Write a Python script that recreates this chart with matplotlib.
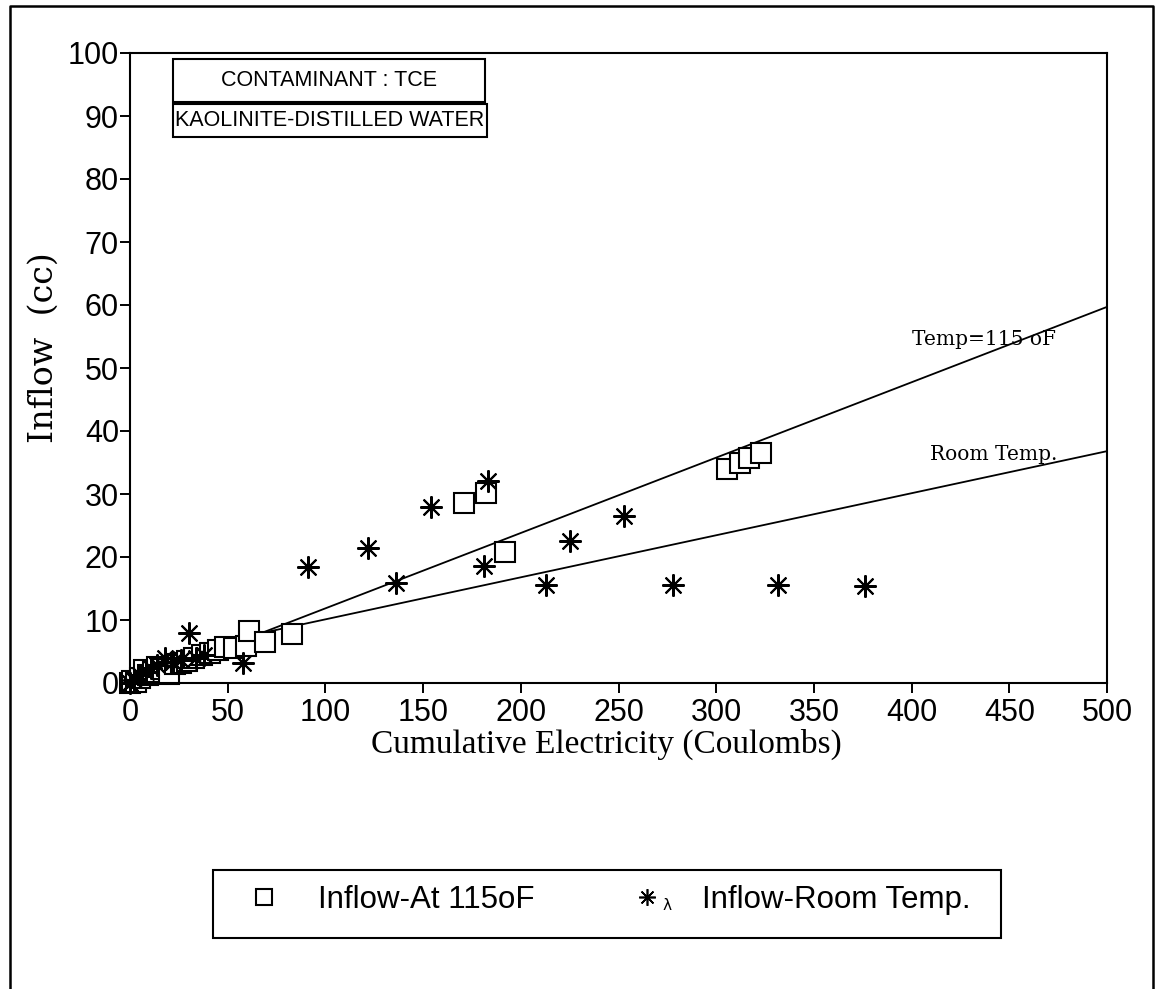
import matplotlib.pyplot as plt
from matplotlib.patches import Rectangle
from matplotlib.lines import Line2D

# Inflow at 115 oF (squares)
x_115 = [0, 1, 3, 5, 7, 9, 12, 14, 17, 20, 23, 26, 29, 33, 37, 41, 45, 48.5, 53,
         59.5, 61, 69, 83, 171, 182, 192, 305.5, 312, 317, 323]
y_115 = [0, 0.3, 0.2, 0.8, 2, 1.2, 1.8, 2.5, 2.2, 1.5, 3, 3.2, 3.5, 3.9, 4.4, 4.8,
         5.2, 5.7, 5.6, 5.9, 8.3, 6.5, 7.8, 28.5, 30.1, 20.8, 33.9, 34.9, 35.7, 36.5]

# Inflow at room temperature (asterisks)
x_room = [0, 2, 5, 8, 11, 14, 18, 22, 26, 30, 34, 38, 58, 91, 122, 136, 154, 181,
          183, 213, 225, 253, 278, 331.5, 376]
y_room = [0, 0.5, 1.2, 1.8, 2.4, 2.9, 3.9, 3.3, 3.6, 7.9, 4.0, 4.4, 3.1, 18.4, 21.5,
          15.9, 28, 18.5, 32, 15.6, 22.5, 26.5, 15.6, 15.6, 15.4]

# fitted lines
x_fit = [67, 500]
y_fit_115 = [7.9, 59.7]
y_fit_room = [7.9, 36.8]

W, H = 1157, 989
fig = plt.figure(figsize=(W / 100, H / 100), dpi=100)
ax = fig.add_axes([130 / W, 1 - 683 / H, (1107 - 130) / W, (683 - 53) / H])

ax.plot(x_fit, y_fit_115, color='black', lw=1.3)
ax.plot(x_fit, y_fit_room, color='black', lw=1.3)
ax.plot(x_115, y_115, ls='none', marker='s', ms=14.5, mfc='white', mec='black', mew=1.5,
        clip_on=False)
ax.plot(x_room, y_room, ls='none', marker=(8, 2, 0), ms=16, mec='black', mew=1.5,
        clip_on=False)

ax.set_xlim(0, 500)
ax.set_ylim(0, 100)
ax.set_xticks(range(0, 501, 50))
ax.set_yticks(range(0, 101, 10))
ax.tick_params(direction='out', length=7, width=1.4, labelsize=22)
ax.tick_params(axis='x', pad=4)
ax.tick_params(axis='y', pad=1)
for lab in ax.get_xticklabels() + ax.get_yticklabels():
    lab.set_fontfamily('Liberation Sans')
for s in ax.spines.values():
    s.set_linewidth(1.5)

ax.set_xlabel('Cumulative Electricity (Coulombs)', fontfamily='Liberation Serif', fontsize=24)
ax.xaxis.set_label_coords(0.488, -0.073)
ax.set_ylabel('Inflow  (cc)', fontfamily='DejaVu Serif', fontsize=24)
ax.yaxis.set_label_coords(-0.072, 0.533)

ax.text(400, 53.6, 'Temp=115 oF', fontfamily='DejaVu Serif', fontsize=14.5, va='baseline')
ax.text(409.5, 35.4, 'Room Temp.', fontfamily='DejaVu Serif', fontsize=14.5, va='baseline')

# info boxes
def fx(px):
    return px / W

def fy(py):
    return 1 - py / H

for (x0, y0, x1, y1, txt) in [(173, 59, 485, 102, 'CONTAMINANT : TCE'),
                              (173, 104, 487, 137, 'KAOLINITE-DISTILLED WATER')]:
    fig.add_artist(Rectangle((fx(x0), fy(y1)), fx(x1) - fx(x0), fy(y0) - fy(y1),
                             fill=False, ec='black', lw=1.5, transform=fig.transFigure))
    fig.text(fx((x0 + x1) / 2), fy((y0 + y1) / 2), txt, ha='center', va='center',
             fontfamily='Liberation Sans', fontsize=15.5)

# outer frame
fig.add_artist(Line2D([fx(10), fx(10), fx(1153), fx(1153)], [0, fy(6), fy(6), 0],
                      color='black', lw=1.8, transform=fig.transFigure))

# legend
fig.add_artist(Rectangle((fx(213), fy(938)), fx(1001) - fx(213), fy(870) - fy(938),
                         fill=False, ec='black', lw=1.5, transform=fig.transFigure))
h1 = Line2D([], [], ls='none', marker='s', ms=11, mfc='white', mec='black', mew=1.5)
h2 = Line2D([], [], ls='none', marker=(8, 2, 0), ms=12, mec='black', mew=1.2)
fig.legend([h1, h2], ['Inflow-At 115oF', 'Inflow-Room Temp.'], ncol=2, frameon=False,
           loc='center left', bbox_to_anchor=(fx(248), fy(900)), borderpad=0,
           borderaxespad=0, handlelength=1.0, handletextpad=1.25, columnspacing=3.1,
           prop={'family': 'Liberation Sans', 'size': 22.5})
fig.text(fx(667), fy(905), 'λ', fontsize=11, ha='center', va='center')

fig.savefig('out.png', dpi=100)
